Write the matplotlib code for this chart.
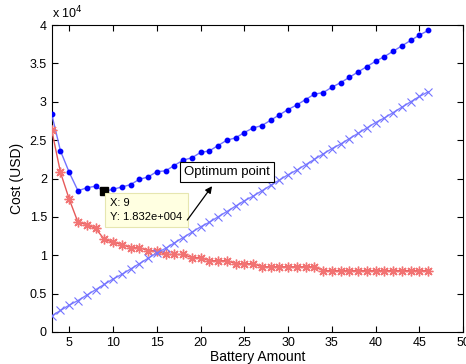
import matplotlib
matplotlib.use("Agg")
import matplotlib.pyplot as plt

plt.rcParams['font.family'] = ['Liberation Sans', 'DejaVu Sans']

battery = list(range(3, 47))
total_cost = [2.84, 2.36, 2.08, 1.84, 1.88, 1.90, 1.832, 1.86, 1.89, 1.92, 1.99, 2.02, 2.09, 2.10,
              2.17, 2.24, 2.27, 2.34, 2.36, 2.43, 2.50, 2.53, 2.60, 2.66, 2.69, 2.76, 2.83, 2.90,
              2.96, 3.03, 3.10, 3.12, 3.19, 3.25, 3.32, 3.39, 3.46, 3.53, 3.59, 3.66, 3.73, 3.80,
              3.87, 3.93]
operating_cost = [2.63, 2.08, 1.73, 1.43, 1.40, 1.35, 1.21, 1.17, 1.14, 1.10, 1.10, 1.06, 1.06, 1.01,
                  1.01, 1.01, 0.97, 0.97, 0.93, 0.93, 0.93, 0.89, 0.89, 0.89, 0.85, 0.85, 0.85, 0.85,
                  0.85, 0.85, 0.85, 0.80, 0.80, 0.80, 0.80, 0.80, 0.80, 0.80, 0.80, 0.80, 0.80, 0.80,
                  0.80, 0.80]
battery_cost = [0.21, 0.28, 0.35, 0.41, 0.48, 0.55, 0.62, 0.69, 0.75, 0.82, 0.89, 0.96, 1.03, 1.09,
                1.16, 1.23, 1.30, 1.37, 1.43, 1.50, 1.57, 1.64, 1.71, 1.77, 1.84, 1.91, 1.98, 2.05,
                2.11, 2.18, 2.25, 2.32, 2.39, 2.45, 2.52, 2.59, 2.66, 2.73, 2.79, 2.86, 2.93, 3.00,
                3.07, 3.13]
opt_x, opt_y = 9, 1.832
xticks = [5, 10, 15, 20, 25, 30, 35, 40, 45, 50]
yticks = [0, 0.5, 1, 1.5, 2, 2.5, 3, 3.5, 4]
ytick_labels = ['0', '0.5', '1', '1.5', '2', '2.5', '3', '3.5', '4']

fig = plt.figure(figsize=(4.66, 3.64), dpi=100)
ax = fig.add_axes([0.111, 0.088, 0.883, 0.843])

ax.plot(battery, total_cost, color=(0.45, 0.45, 1.0), lw=1.0, marker='o', ms=3.2,
        mfc='#0000ff', mec='#0000ff', zorder=3)
ax.plot(battery, operating_cost, color=(0.9, 0.35, 0.35), lw=1.0, marker=(8, 2, 0), ms=7,
        mfc=(0.95, 0.45, 0.45), mec=(0.95, 0.45, 0.45), mew=1.0, zorder=3)
ax.plot(battery, battery_cost, color=(0.5, 0.5, 1.0), lw=1.0, marker='x', ms=5.5,
        mec=(0.45, 0.45, 1.0), mew=0.8, zorder=3)

ax.set_xlim(3, 50)
ax.set_ylim(0, 4)
ax.set_xticks(xticks)
ax.set_yticks(yticks)
ax.set_yticklabels(ytick_labels)
ax.tick_params(direction='in', top=True, right=True, labelsize=9, length=4, width=0.8)
for s in ax.spines.values():
    s.set_linewidth(0.8)

ax.set_xlabel('Battery Amount', fontsize=10, labelpad=1)
ax.set_ylabel('Cost (USD)', fontsize=10, labelpad=4)
ax.text(0.0, 1.012, r'x 10$^4$', transform=ax.transAxes, fontsize=9, ha='left', va='bottom')

# data tip
ax.plot([opt_x], [opt_y], marker='s', ms=6, color='black', zorder=5)
ax.text(opt_x + 0.7, opt_y - 0.08, 'X: 9\nY: 1.832e+004', fontsize=8, ha='left', va='top',
        linespacing=1.5,
        bbox=dict(boxstyle='square,pad=0.45', fc='#ffffe1', ec='#e6e6b0', lw=0.8), zorder=6)

# annotation
ax.annotate('', xy=(21.5, 1.93), xytext=(18.3, 1.43),
            arrowprops=dict(arrowstyle='-|>', color='black', lw=0.9, mutation_scale=10), zorder=6)
ax.text(23.0, 2.09, 'Optimum point', fontsize=9.5, ha='center', va='center',
        bbox=dict(boxstyle='square,pad=0.3', fc='white', ec='black', lw=0.8), zorder=6)

fig.savefig('out.png', dpi=100)
